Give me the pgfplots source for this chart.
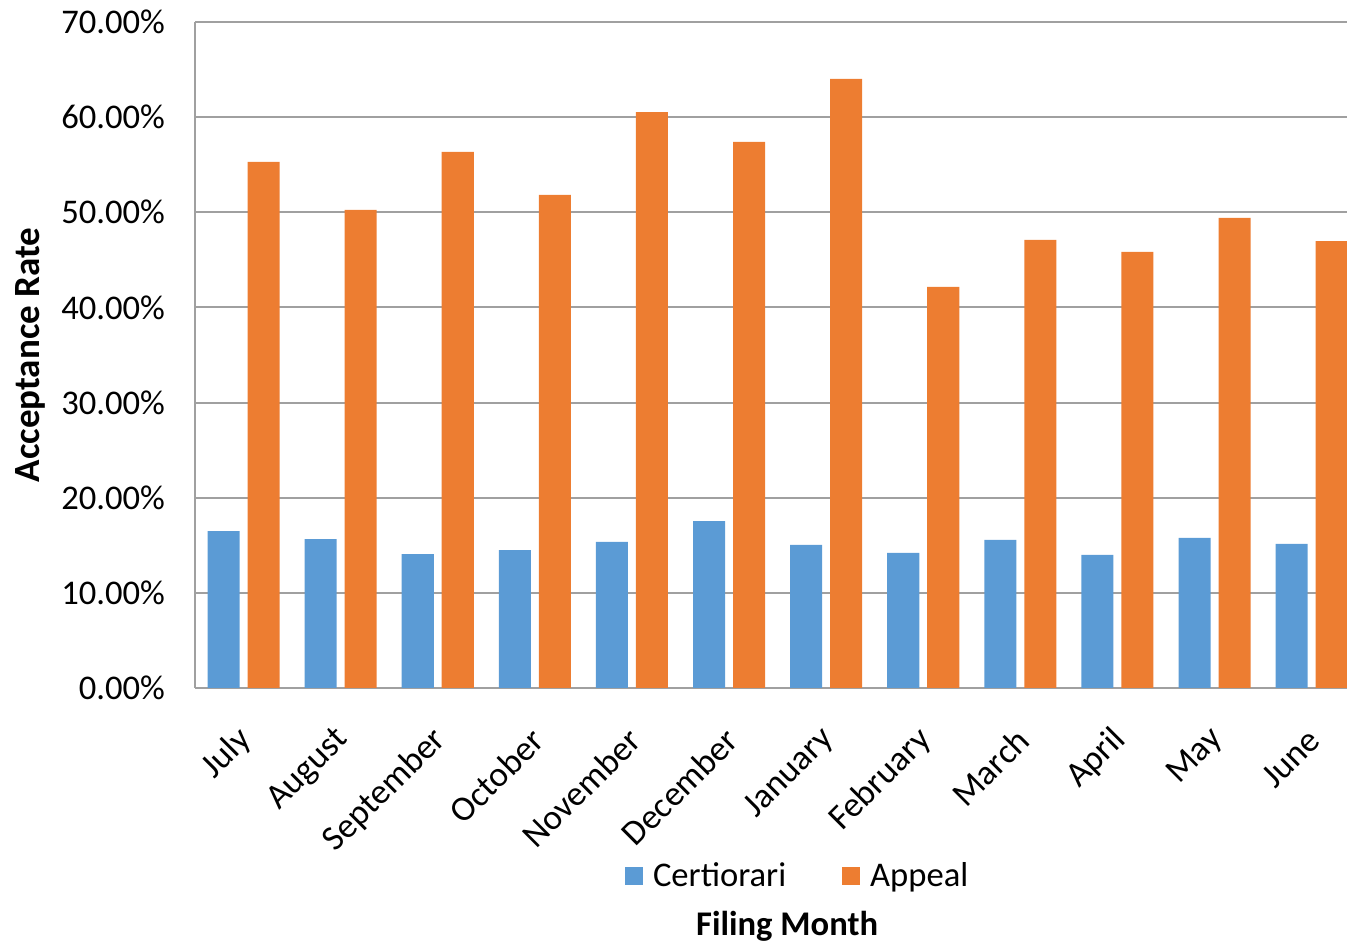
\documentclass[border=0pt]{standalone}
\usepackage{fontspec}
\setmainfont{Carlito}
\usepackage{pgfplots}
\pgfplotsset{compat=1.18}
\definecolor{cblue}{RGB}{91,155,213}
\definecolor{corange}{RGB}{237,125,49}
\definecolor{cgrid}{RGB}{160,160,160}
\begin{document}
\begin{tikzpicture}
\begin{axis}[
  scale only axis, width=576pt, height=333pt,
  xmin=-0.5, xmax=11.364, ymin=0, ymax=70,
  ytick={0,10,...,70},
  yticklabels={0.00\%,10.00\%,20.00\%,30.00\%,40.00\%,50.00\%,60.00\%,70.00\%},
  xtick={0,...,11},
  xticklabels={July,August,September,October,November,December,January,February,March,April,May,June},
  axis x line*=bottom, axis y line*=left,
  ymajorgrids, major grid style={cgrid, line width=1pt},
  axis line style={cgrid, line width=1pt},
  major tick length=0pt,
  tick label style={font=\fontsize{17.3}{20}\selectfont},
  yticklabel style={xshift=-11.5pt},
  xticklabel style={rotate=45, anchor=east, xshift=-12pt, yshift=-17.5pt, font=\fontsize{17.6}{20}\selectfont},
  ylabel={\bfseries Acceptance Rate},
  ylabel style={at={(rel axis cs:-0.1432,0.5)}, anchor=center, rotate=0, font=\fontsize{18.5}{20}\selectfont},
  xlabel={\bfseries Filing Month},
  xlabel style={at={(rel axis cs:0.514,-0.358)}, anchor=center, font=\fontsize{17.3}{20}\selectfont},
  legend columns=2,
  legend style={at={(rel axis cs:0.524,-0.2823)}, anchor=center, draw=none, fill=none,
    font=\fontsize{17.3}{20}\selectfont,
    /tikz/every even column/.append style={column sep=26pt},
    /tikz/every odd column/.append style={column sep=0pt}},
  every axis plot post/.append style={legend image code/.code={\fill[##1,draw=none] (0pt,-4.5pt) rectangle (9pt,4.5pt); \path (12pt,0pt);}},
]
\addplot[ybar, bar width=0.33, bar shift=-0.206, fill=cblue, draw=none] coordinates {
(0,16.5) (1,15.66) (2,14.08) (3,14.5) (4,15.35) (5,17.55) (6,15.03) (7,14.19) (8,15.56) (9,13.98) (10,15.77) (11,15.14)};
\addlegendentry{Certiorari}
\addplot[ybar, bar width=0.33, bar shift=0.206, fill=corange, draw=none] coordinates {
(0,55.29) (1,50.24) (2,56.34) (3,51.82) (4,60.54) (5,57.39) (6,64.01) (7,42.15) (8,47.09) (9,45.83) (10,49.40) (11,46.98)};
\addlegendentry{Appeal}
\end{axis}
\pgfresetboundingbox
\path[use as bounding box] (-97.5pt,-128.5pt) rectangle (576pt,344pt);
\end{tikzpicture}
\end{document}
